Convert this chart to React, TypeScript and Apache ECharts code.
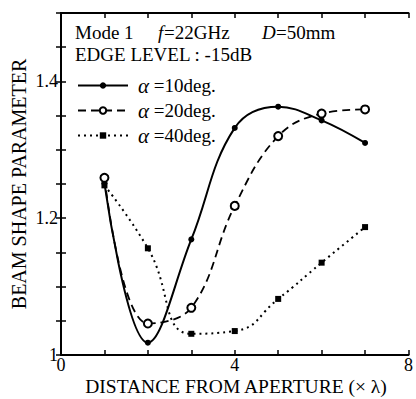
import React, { useEffect, useRef } from "react";
import * as echarts from "echarts";

const xs = [1, 2, 3, 4, 5, 6, 7];
const v10 = [1.251, 1.018, 1.169, 1.332, 1.363, 1.343, 1.31];
const v20 = [1.259, 1.046, 1.069, 1.218, 1.32, 1.353, 1.359];
const v40 = [1.248, 1.156, 1.031, 1.035, 1.082, 1.135, 1.187];
const seriesNames = ["α =10deg.", "α =20deg.", "α =40deg."];
const xLabels = [0, 4, 8];
const yLabels = [1, 1.2, 1.4];

const FONT = "Liberation Serif";

export default function App() {
  const ref = useRef<HTMLDivElement>(null);
  useEffect(() => {
    document.body.style.margin = "0";
    const chart = echarts.init(ref.current!, null, { renderer: "svg" });
    const pts = (v: number[]) => xs.map((x, i) => [x, v[i]]);
    const axisCommon = {
      axisLine: { show: true, lineStyle: { color: "#000", width: 2 } },
      axisTick: { show: true, inside: true, length: 5, lineStyle: { color: "#000", width: 1.5 } },
      splitLine: { show: false },
    };
    const txt = (text: string, x: number, y: number, extra: any = {}) => ({
      type: "text",
      x,
      y,
      style: {
        text,
        fontFamily: FONT,
        fontSize: 19,
        fill: "#000",
        verticalAlign: "middle",
        ...extra,
      },
    });
    chart.setOption({
      animation: false,
      backgroundColor: "#fff",
      textStyle: { fontFamily: FONT },
      grid: { left: 61, right: 4, top: 13, bottom: 44 },
      legend: {
        orient: "vertical",
        left: 72,
        top: 70,
        itemWidth: 50,
        itemHeight: 8,
        itemGap: 4,
        data: seriesNames,
        textStyle: {
          fontFamily: FONT,
          fontSize: 19,
          lineHeight: 20,
          color: "#000",
          padding: [0, 0, 0, 5],
          rich: { a: { fontStyle: "italic", fontFamily: FONT, fontSize: 21, lineHeight: 20, color: "#000" } },
        },
        formatter: (n: string) => "{a|α}" + n.slice(1),
      },
      xAxis: [
        {
          type: "value",
          min: 0,
          max: 8,
          interval: 1,
          axisLabel: {
            fontFamily: FONT,
            fontSize: 18,
            color: "#000",
            margin: 1,
            formatter: (v: number) => (xLabels.includes(v) ? String(v) : ""),
          },
          ...axisCommon,
        },
        {
          type: "value",
          position: "top",
          min: 0,
          max: 8,
          interval: 1,
          axisLabel: { show: false },
          ...axisCommon,
        },
      ],
      yAxis: [
        {
          type: "value",
          min: 1,
          max: 1.5,
          interval: 0.05,
          axisLabel: {
            fontFamily: FONT,
            fontSize: 18,
            color: "#000",
            margin: 3,
            formatter: (v: number) => {
              const m = yLabels.find((l) => Math.abs(l - v) < 1e-6);
              return m === undefined ? "" : String(m);
            },
          },
          ...axisCommon,
        },
        {
          type: "value",
          position: "right",
          min: 1,
          max: 1.5,
          interval: 0.05,
          axisLabel: { show: false },
          ...axisCommon,
        },
      ],
      graphic: [
        txt("Mode 1", 75, 32),
        txt("f", 158, 32, { fontStyle: "italic" }),
        txt("=22GHz", 164, 32),
        txt("D", 262, 32, { fontStyle: "italic" }),
        txt("=50mm", 276, 32),
        txt("EDGE LEVEL : -15dB", 75, 54),
        txt("DISTANCE FROM APERTURE (× λ)", 236, 386, { fontSize: 19.5, align: "center" }),
        {
          type: "text",
          x: 19,
          y: 184,
          rotation: Math.PI / 2,
          style: {
            text: "BEAM SHAPE PARAMETER",
            fontFamily: FONT,
            fontSize: 20,
            fill: "#000",
            align: "center",
            verticalAlign: "middle",
          },
        },
      ],
      series: [
        {
          name: seriesNames[0],
          type: "line",
          data: pts(v10),
          smooth: 0.4,
          symbol: "circle",
          symbolSize: 6,
          itemStyle: { color: "#000" },
          lineStyle: { color: "#000", width: 2, type: "solid" },
        },
        {
          name: seriesNames[1],
          type: "line",
          data: pts(v20),
          smooth: 0.4,
          symbol: "circle",
          symbolSize: 8,
          itemStyle: { color: "#fff", borderColor: "#000", borderWidth: 2 },
          lineStyle: { color: "#000", width: 1.8, type: [8, 5] },
        },
        {
          name: seriesNames[2],
          type: "line",
          data: pts(v40),
          smooth: 0.5,
          symbol: "rect",
          symbolSize: 6,
          itemStyle: { color: "#000" },
          lineStyle: { color: "#000", width: 2, type: [2, 4] },
        },
      ],
    });
    return () => chart.dispose();
  }, []);
  return <div ref={ref} style={{ width: 416, height: 399 }} />;
}
